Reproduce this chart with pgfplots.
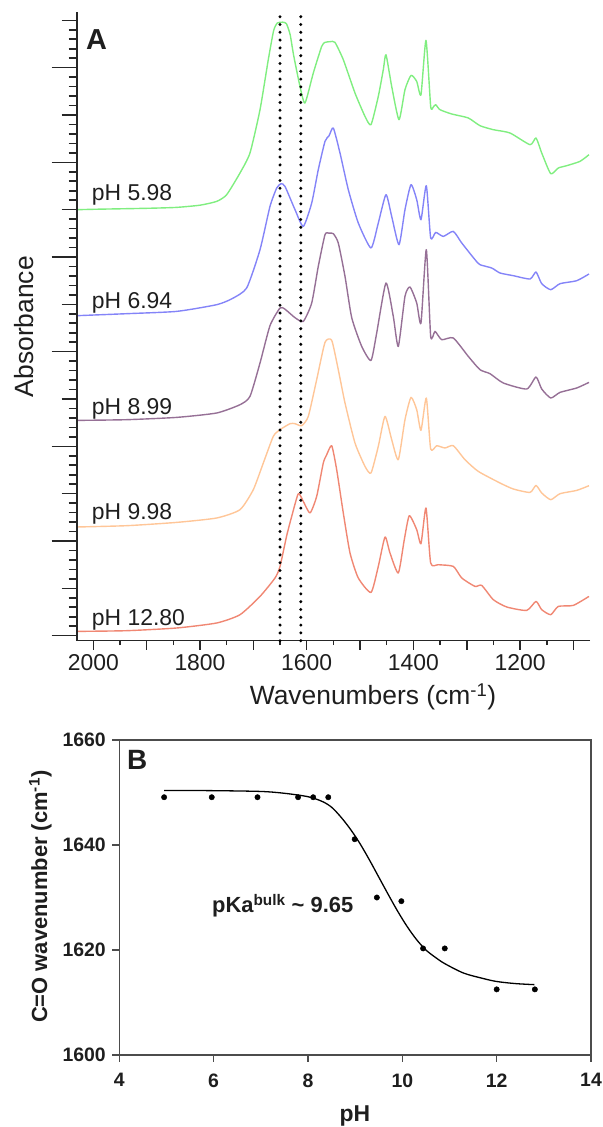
\documentclass[border=0pt]{standalone}
\usepackage{fontspec}
\setmainfont{Liberation Sans}
\usepackage{pgfplots}
\pgfplotsset{compat=1.18}
\newcommand\fs[1]{\fontsize{#1}{#1}\selectfont}
\definecolor{cgreen}{RGB}{128,238,128}
\definecolor{cblue}{RGB}{132,132,248}
\definecolor{cpurple}{RGB}{150,112,150}
\definecolor{corange}{RGB}{255,198,152}
\definecolor{cred}{RGB}{240,135,115}
\definecolor{txt}{RGB}{30,30,30}
\begin{document}
\begin{tikzpicture}
\path[use as bounding box] (0,0) rectangle (603bp,1127bp);
% ---------- Panel A: spectra + x axis
\begin{axis}[at={(76.7bp,486.3bp)}, anchor=south west, scale only axis,
  width=513.3bp, height=628.7bp,
  xmin=1069, xmax=2031.1, x dir=reverse, ymin=0, ymax=628.7,
  axis x line=bottom, axis y line=none,
  axis line style={-, line width=1.6bp, color=black!85},
  xtick={1100,1200,...,2000}, xticklabels={,1200,,1400,,1600,,1800,,2000},
  minor xtick={1150,1250,...,1950},
  tick align=outside, major tick length=9bp, minor tick length=4.5bp,
  every tick/.style={line width=1.5bp, black!85},
  xticklabel style={font=\fs{23}, inner sep=0pt, text=txt, yshift=-5bp},
  spec/.style={line width=1.4bp, line join=round, smooth, tension=0.35},
  clip=false]
\addplot[cgreen, spec] coordinates {
(2031,431) (1990,431.5) (1937.4,432) (1890,432.5) (1843.7,433.3) (1800,435.5) (1768.7,439.3) (1750,446) (1725,467.7) (1706.3,487.7) (1687.5,531) (1672,581) (1662,610) (1655,617.7) (1645,618.5) (1638,617) (1631,606) (1624.7,586) (1612.6,554.3) (1603.2,537.7) (1587.6,567.7) (1571.9,594.3) (1565.7,598.3) (1556,599) (1547,598.3) (1531.4,581) (1509.5,547.7) (1490.7,524.3) (1479.5,516) (1465.8,544.3) (1456.4,571) (1451.4,586) (1440.7,554.3) (1427,521) (1415.8,551) (1404.5,565.3) (1393.8,559.3) (1385.8,546) (1376.4,600.3) (1367.6,534.3) (1362.7,533.7) (1358.2,536) (1350.2,531) (1328.2,526.7) (1297.1,522.7) (1275.2,515) (1250.2,511) (1219,507.7) (1181.4,496) (1170.2,502.7) (1159.5,487.7) (1142.6,467) (1128.4,472.7) (1112.7,475) (1087.8,479.3) (1070.9,486)};
\addplot[cblue, spec] coordinates {
(2031,325) (1937.4,327) (1843.7,329.3) (1768.7,336) (1740,342) (1712.5,352.7) (1687.5,391) (1668.8,434.3) (1656.2,452.7) (1648,457) (1640.7,454.3) (1621.9,431) (1606.4,414.3) (1590.6,437.7) (1578.3,471) (1565.7,499.3) (1558,505) (1550.1,512.7) (1537.6,487.7) (1522,451) (1503.3,417.7) (1479.5,392.7) (1465.8,417.7) (1451.4,446) (1440.7,424.3) (1427,396) (1415.8,431) (1404.5,456) (1393.8,441) (1385.8,421) (1375.8,455) (1367.6,402.7) (1358.2,408.3) (1343.9,404.3) (1325.2,409.3) (1309.4,397.7) (1284.5,381) (1275.2,376) (1253.3,372.7) (1237.7,367.7) (1212.7,365) (1181.4,361.7) (1170.2,368.7) (1159.5,357) (1142.6,351) (1125.2,357) (1093.9,360) (1070.9,366.7)};
\addplot[cpurple, spec] coordinates {
(2031,220.3) (1937.4,221) (1843.7,223.3) (1768.7,227.7) (1725,236) (1706.3,244.3) (1687.5,277.7) (1668.8,315) (1650,332.7) (1640.7,331.5) (1621.9,323) (1606.4,319.3) (1590.6,337.7) (1578.3,374.3) (1565.7,406) (1558.2,407.5) (1550.1,407) (1540.8,397.7) (1528.2,364.3) (1515.6,323) (1496.9,294.3) (1479.5,280.3) (1468.8,307.7) (1451.4,357.7) (1437.7,324.3) (1428.3,294.3) (1415.8,344.3) (1406.4,353.7) (1393.8,337.7) (1385.8,317.7) (1375.8,391) (1367.6,304.3) (1359.5,309.3) (1346.9,301) (1325.2,302.7) (1297.1,284.3) (1275.2,271) (1256.4,267) (1231.5,257.7) (1187.6,251.7) (1170.2,263.7) (1159.5,251.7) (1142.6,242.7) (1125.2,248.3) (1093.9,252.7) (1070.9,258.3)};
\addplot[corange, spec] coordinates {
(2031,113.7) (1937.4,115) (1843.7,118.3) (1768.7,122.7) (1725,131) (1700.1,151) (1681.3,177.7) (1662.6,204.3) (1650,211) (1631.3,217) (1621.9,217) (1609.4,215) (1597,224.3) (1581.3,261) (1565.7,298.3) (1553.1,300.3) (1540.8,271) (1528.2,237.7) (1509.5,197.7) (1490.7,174.3) (1479.5,167.7) (1465.8,194.3) (1453.2,224.3) (1440.7,201) (1428.3,181) (1415.8,221) (1404.5,243.3) (1393.8,231) (1385.8,210.3) (1375.8,242.7) (1367.6,191.7) (1356.3,195) (1340.8,192.7) (1325.2,195) (1303.3,181) (1278.4,169.3) (1237.7,157.7) (1212.7,151.7) (1181.4,148.3) (1170.2,155.3) (1159.5,147.7) (1142.6,141) (1125.2,147) (1093.9,150.3) (1070.9,155)};
\addplot[cred, spec] coordinates {
(2031,9.3) (1937.4,10) (1843.7,12.7) (1768.7,17.7) (1725,26) (1687.5,44.3) (1659.4,62.7) (1650,74.3) (1637.5,105) (1628.1,124.3) (1615.7,147) (1606.4,139.3) (1593.8,127.7) (1581.3,144.3) (1568.9,177.7) (1562.5,186) (1553.1,195) (1543.8,171) (1531.4,127.7) (1518.8,87.7) (1503.3,62.7) (1479.5,48.3) (1465.8,74.3) (1453.2,103.7) (1443.9,87.7) (1428.3,67.7) (1417.1,101) (1407.7,125) (1393.8,111) (1385.8,97) (1376.4,132.7) (1367.6,77.7) (1353.3,76) (1325.2,74.3) (1309.4,62.7) (1284.5,54.3) (1272,55.3) (1250.2,41) (1225.1,33.7) (1187.6,30.3) (1170.2,39.3) (1159.5,31) (1142.6,26) (1128.4,34.3) (1100.3,35.3) (1070.9,44.3)};
\addplot[black, line width=3.3bp, line cap=round, dash pattern=on 0bp off 7.8bp] coordinates {(1650,0) (1650,628)};
\addplot[black, line width=3.3bp, line cap=round, dash pattern=on 0bp off 7.8bp] coordinates {(1611,0) (1611,628)};
\end{axis}
% ---------- Panel A: y axis with alternating ticks
\begin{axis}[at={(76.7bp,486.3bp)}, anchor=south west, scale only axis,
  width=513.3bp, height=628.7bp,
  xmin=0, xmax=1, ymin=0, ymax=628.7,
  axis y line=left, axis x line=none,
  axis line style={-, line width=1.8bp, color=black!85},
  ytick={5,99.67,194.33,289,383.67,478.33,573}, yticklabels={},
  extra y ticks={52.33,147,241.67,336.33,431,525.67,620.33}, extra y tick labels={},
  extra y tick style={major tick length=15bp},
  minor ytick={5,14.467,...,625},
  tick align=outside, major tick length=25bp, minor tick length=8bp,
  every tick/.style={line width=1.6bp, black!85}]
\end{axis}
\node[anchor=base west, inner sep=0pt, font=\bfseries\fs{29}, text=txt] at (86bp,1077.7bp) {A};
\node[anchor=base west, inner sep=0pt, font=\fs{23}, text=txt] at (91.7bp,926.3bp) {pH 5.98};
\node[anchor=base west, inner sep=0pt, font=\fs{23}, text=txt] at (91.7bp,818.7bp) {pH 6.94};
\node[anchor=base west, inner sep=0pt, font=\fs{23}, text=txt] at (91.7bp,712.7bp) {pH 8.99};
\node[anchor=base west, inner sep=0pt, font=\fs{23}, text=txt] at (91.7bp,607.7bp) {pH 9.98};
\node[anchor=base west, inner sep=0pt, font=\fs{23}, text=txt] at (91.7bp,501bp) {pH 12.80};
\node[rotate=90, anchor=base, inner sep=0pt, font=\fs{26.5}, text=txt] at (33.3bp,800.3bp) {Absorbance};
\node[anchor=base, inner sep=0pt, font=\fs{26.5}, text=txt] at (373bp,422bp) {Wavenumbers (cm\textsuperscript{-1})};
% ---------- Panel B
\begin{axis}[at={(119.3bp,72bp)}, anchor=south west, scale only axis,
  width=471.7bp, height=315bp,
  xmin=4, xmax=14, ymin=1600, ymax=1660,
  xtick={4,6,8,10,12,14}, xticklabels={},
  ytick={1600,1620,1640,1660}, yticklabels={},
  tick pos=left, tick align=outside, major tick length=7bp,
  axis line style={line width=1.5bp, color=black!70},
  every tick/.style={line width=1.5bp, black!70}]
\addplot[black, line width=1.3bp, smooth] coordinates {
(4.95,1650.4) (6,1650.35) (7,1650.2) (7.5,1649.85) (8,1649.2) (8.3,1648.3) (8.5,1647.2) (8.7,1645.3) (8.9,1643.0) (9.1,1640.3) (9.3,1637.2) (9.5,1633.9) (9.7,1630.6) (9.9,1627.4) (10.1,1624.5) (10.3,1622.0) (10.5,1620.0) (10.7,1618.6) (10.9,1617.4) (11.3,1615.6) (11.7,1614.6) (12.0,1614.0) (12.4,1613.6) (12.8,1613.4)};
\addplot[only marks, mark=*, mark size=2.7bp, black] coordinates {
(4.95,1649.1) (5.96,1649.1) (6.93,1649.1) (7.79,1649.1) (8.11,1649.1) (8.43,1649.1) (8.99,1641.1) (9.46,1630) (9.98,1629.3) (10.44,1620.3) (10.9,1620.3) (12.0,1612.5) (12.81,1612.5)};
\end{axis}
% tick labels of panel B
\foreach \v/\yy in {1660/387, 1640/282, 1620/177, 1600/72}
  \node[anchor=east, inner sep=0pt, font=\bfseries\fs{19.5}, text=txt] at (106bp,\yy bp) {\v};
\foreach \v/\xx in {4/119.3, 6/213.6, 8/308, 10/402.3, 12/496.7, 14/591}
  \node[anchor=north, inner sep=0pt, font=\bfseries\fs{19.5}, text=txt] at (\xx bp,53.7bp) {\v};
\node[anchor=base west, inner sep=0pt, font=\bfseries\fs{28}, text=txt] at (127bp,357bp) {B};
\node[anchor=base west, inner sep=0pt, font=\bfseries\fs{22}, text=txt] at (212bp,214bp) {pKa\textsuperscript{bulk} \textasciitilde{} 9.65};
\node[rotate=90, anchor=base, inner sep=0pt, font=\bfseries\fs{22}, text=txt] at (47bp,230.3bp) {C=O wavenumber (cm\textsuperscript{-1})};
\node[anchor=base, inner sep=0pt, font=\bfseries\fs{23}, text=txt] at (355bp,5.3bp) {pH};
\end{tikzpicture}
\end{document}
